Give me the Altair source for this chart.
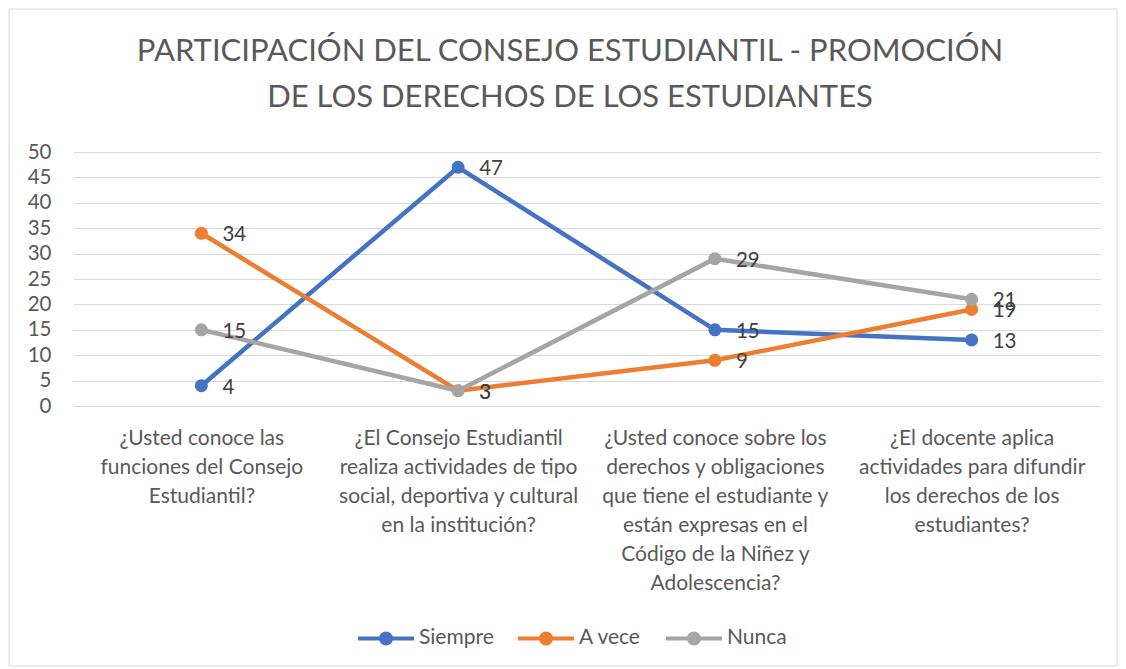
import altair as alt
import pandas as pd

categories = [
    "¿Usted conoce las|funciones del Consejo|Estudiantil?",
    "¿El Consejo Estudiantil|realiza actividades de tipo|social, deportiva y cultural|en la institución?",
    "¿Usted conoce sobre los|derechos y obligaciones|que tiene el estudiante y|están expresas en el|Código de la Niñez y|Adolescencia?",
    "¿El docente aplica|actividades para difundir|los derechos de los|estudiantes?",
]
series_names = ["Siempre", "A vece", "Nunca"]
siempre = [4, 47, 15, 13]
a_vece = [34, 3, 9, 19]
nunca = [15, 3, 29, 21]
colors = ["#4472C4", "#ED7D31", "#A5A5A5"]
y_ticks = list(range(0, 55, 5))
title_lines = ["PARTICIPACIÓN DEL CONSEJO ESTUDIANTIL - PROMOCIÓN", "DE LOS DERECHOS DE LOS ESTUDIANTES"]

rows = []
for name, vals in zip(series_names, [siempre, a_vece, nunca]):
    for c, v in zip(categories, vals):
        rows.append({"pregunta": c, "serie": name, "valor": v})
df = pd.DataFrame(rows)

FONT = "Lato"
GREY = "#595959"
W, H = 1027, 254

legend_symbol = "M-1,0L1,0M-0.18,0A0.18,0.18 0 1,1 0.18,0A0.18,0.18 0 1,1 -0.18,0Z"

x_enc = alt.X(
    "pregunta:N",
    sort=categories,
    scale=alt.Scale(type="point", padding=0.5),
    axis=alt.Axis(
        title=None, labelAngle=0, domain=False, ticks=False, grid=False,
        labelExpr="split(datum.label, '|')", labelLineHeight=29,
        labelFontSize=21, labelFont=FONT, labelColor=GREY, labelPadding=21,
        labelLimit=400, labelBaseline="top",
    ),
)
y_enc = alt.Y(
    "valor:Q",
    scale=alt.Scale(domain=[0, 50], nice=False),
    axis=alt.Axis(
        title=None, values=y_ticks, domain=False, ticks=False,
        gridColor="#D9D9D9", gridWidth=1.2, labelFontSize=20.5, labelFont=FONT,
        labelColor=GREY, labelPadding=22,
    ),
)
color_enc = alt.Color(
    "serie:N",
    sort=series_names,
    scale=alt.Scale(domain=series_names, range=colors),
    legend=alt.Legend(
        title=None, orient="none", direction="horizontal", legendX=283, legendY=456,
        symbolType=legend_symbol, symbolSize=3136, symbolStrokeWidth=4,
        labelFontSize=21, labelFont=FONT, labelColor=GREY, labelOffset=3,
        columnPadding=16, symbolOpacity=1,
    ),
)

base = alt.Chart(df).encode(x=x_enc, y=y_enc)

lines = base.mark_line(strokeWidth=4.5).encode(color=color_enc)
points = base.mark_point(filled=True, size=170, opacity=1).encode(
    color=alt.Color("serie:N", sort=series_names,
                    scale=alt.Scale(domain=series_names, range=colors), legend=None))
labels = base.mark_text(align="left", baseline="middle", dx=21, dy=2, fontSize=20.5,
                        font=FONT, color="#404040").encode(text="valor:Q")

one = pd.DataFrame({"a": [0]})
border = alt.Chart(one).mark_rect(
    fill=None, stroke="#D9D9D9", strokeWidth=1
).encode(x=alt.value(-64), x2=alt.value(1044), y=alt.value(-143), y2=alt.value(514))

title1 = alt.Chart(one).mark_text(
    text=title_lines[0], font=FONT, fontSize=31, color=GREY, align="center", baseline="middle"
).encode(x=alt.value(497), y=alt.value(-100))
title2 = alt.Chart(one).mark_text(
    text=title_lines[1], font=FONT, fontSize=31, color=GREY, align="center", baseline="middle"
).encode(x=alt.value(497), y=alt.value(-54))

chart = alt.layer(border, title1, title2, lines, points, labels).properties(
    width=W, height=H,
    autosize=alt.AutoSizeParams(type="none"),
    padding={"left": 65, "top": 144, "right": 18, "bottom": 262},
).configure(background="white").configure_view(stroke=None)

chart.save("out.html", embed_options={"renderer": "svg", "actions": False})
